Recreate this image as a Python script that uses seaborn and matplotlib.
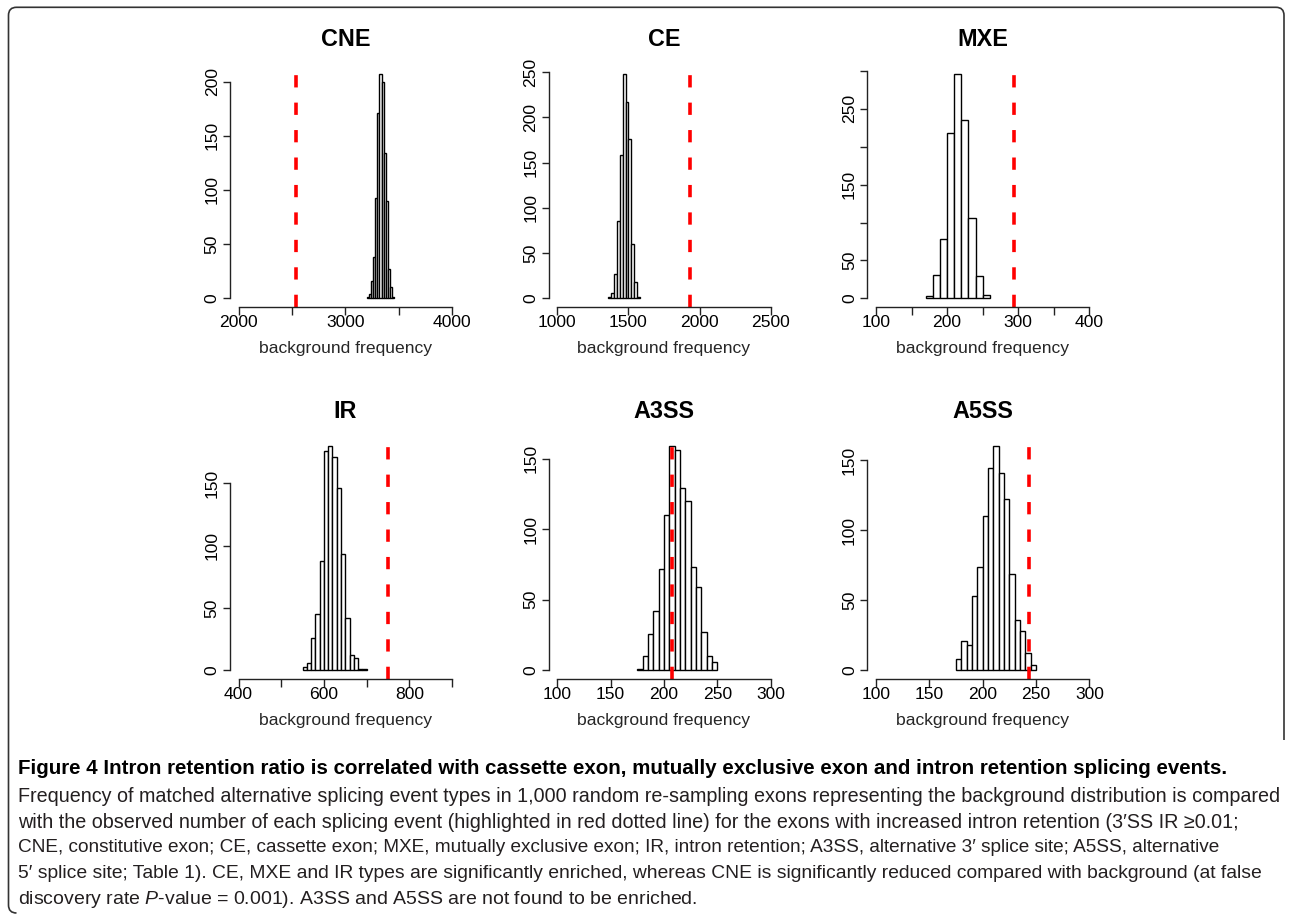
import matplotlib
matplotlib.use("Agg")
import numpy as np
import pandas as pd
import matplotlib.pyplot as plt
import seaborn as sns
from matplotlib.path import Path
from matplotlib.patches import PathPatch

# данные: границы бинов и частоты фонового распределения (1000 перевыборок)
cne_edges = [3200, 3220, 3240, 3260, 3280, 3300, 3320, 3340, 3360, 3380, 3400, 3420, 3440, 3460]
cne_counts = [1, 4, 16, 38, 93, 171, 207, 200, 134, 90, 27, 10, 1]

ce_edges = [1360, 1380, 1400, 1420, 1440, 1460, 1480, 1500, 1520, 1540, 1560, 1580]
ce_counts = [1, 6, 27, 86, 158, 248, 217, 176, 60, 18, 2]

mxe_edges = [170, 180, 190, 200, 210, 220, 230, 240, 250, 260]
mxe_counts = [3, 31, 78, 218, 296, 235, 106, 30, 4]

ir_edges = [550, 560, 570, 580, 590, 600, 610, 620, 630, 640, 650, 660, 670, 680, 690, 700]
ir_counts = [3, 6, 26, 45, 88, 176, 180, 171, 146, 93, 42, 12, 10, 1, 1]

a3ss_edges = [175, 180, 185, 190, 195, 200, 205, 210, 215, 220, 225, 230, 235, 240, 245, 250]
a3ss_counts = [1, 10, 26, 42, 72, 110, 159, 156, 129, 120, 73, 59, 27, 10, 6]

a5ss_edges = [175, 180, 185, 190, 195, 200, 205, 210, 215, 220, 225, 230, 235, 240, 245, 250]
a5ss_counts = [8, 21, 18, 53, 74, 110, 144, 160, 141, 122, 69, 36, 28, 12, 4]

# наблюдаемое число событий (красная линия)
observed = [2535, 1934, 294, 750, 208, 243]
titles = ["CNE", "CE", "MXE", "IR", "A3SS", "A5SS"]

# подписи осей
cne_xticks = [2000, 2500, 3000, 3500, 4000]
cne_xlabels = ["2000", "", "3000", "", "4000"]
ce_xticks = [1000, 1500, 2000, 2500]
ce_xlabels = ["1000", "1500", "2000", "2500"]
mxe_xticks = [100, 150, 200, 250, 300, 350, 400]
mxe_xlabels = ["100", "", "200", "", "300", "", "400"]
ir_xticks = [400, 500, 600, 700, 800, 900]
ir_xlabels = ["400", "", "600", "", "800", ""]
ass_xticks = [100, 150, 200, 250, 300]
ass_xlabels = ["100", "150", "200", "250", "300"]

cne_yticks = [0, 50, 100, 150, 200]
cne_ylabels = ["0", "50", "100", "150", "200"]
ce_yticks = [0, 50, 100, 150, 200, 250]
ce_ylabels = ["0", "50", "100", "150", "200", "250"]
mxe_yticks = [0, 50, 100, 150, 200, 250, 300]
mxe_ylabels = ["0", "50", "", "150", "", "250", ""]
low_yticks = [0, 50, 100, 150]
low_ylabels = ["0", "50", "100", "150"]

caption_title = ("Figure 4 Intron retention ratio is correlated with cassette exon, "
                 "mutually exclusive exon and intron retention splicing events.")
caption_lines = [
    "Frequency of matched alternative splicing event types in 1,000 random re-sampling exons representing the background distribution is compared",
    "with the observed number of each splicing event (highlighted in red dotted line) for the exons with increased intron retention (3\u2032SS IR \u22650.01;",
    "CNE, constitutive exon; CE, cassette exon; MXE, mutually exclusive exon; IR, intron retention; A3SS, alternative 3\u2032 splice site; A5SS, alternative",
    "5\u2032 splice site; Table 1). CE, MXE and IR types are significantly enriched, whereas CNE is significantly reduced compared with background (at false",
    "discovery rate $\\mathit{P}$-value = 0.001). A3SS and A5SS are not found to be enriched.",
]

sns.set_theme(style="ticks")
plt.rcParams["font.family"] = ["Liberation Sans", "DejaVu Sans"]
plt.rcParams["mathtext.fontset"] = "custom"
plt.rcParams["mathtext.it"] = "Liberation Sans:italic"
plt.rcParams["mathtext.rm"] = "Liberation Sans"
plt.rcParams["text.color"] = "black"

panels = [
    (cne_edges, cne_counts, cne_xticks, cne_xlabels, cne_yticks, cne_ylabels),
    (ce_edges, ce_counts, ce_xticks, ce_xlabels, ce_yticks, ce_ylabels),
    (mxe_edges, mxe_counts, mxe_xticks, mxe_xlabels, mxe_yticks, mxe_ylabels),
    (ir_edges, ir_counts, ir_xticks, ir_xlabels, low_yticks, low_ylabels),
    (a3ss_edges, a3ss_counts, ass_xticks, ass_xlabels, low_yticks, low_ylabels),
    (a5ss_edges, a5ss_counts, ass_xticks, ass_xlabels, low_yticks, low_ylabels),
]

W, H = 1290, 916
fig = plt.figure(figsize=(W / 100, H / 100), dpi=100)

col_left = [230, 548.7, 867.4]
row_top = [65, 437]
pw, ph = 230.5, 242.3

for i, (edges, counts, xt, xl, yt, yl) in enumerate(panels):
    r, c = divmod(i, 3)
    ax = fig.add_axes([col_left[c] / W, (H - row_top[r] - ph) / H, pw / W, ph / H])
    mids = [(a + b) / 2 for a, b in zip(edges[:-1], edges[1:])]
    df = pd.DataFrame({"freq": mids, "n": counts})
    sns.histplot(data=df, x="freq", weights="n", bins=list(edges), ax=ax, color="white",
                 edgecolor="black", linewidth=1.0, alpha=1)
    ax.axvline(observed[i], color="#ff0000", lw=2.6, linestyle=(0, (3.4, 4.2)))

    x0, x1 = xt[0], xt[-1]
    ymax = max(counts)
    ax.set_xlim(x0 - 0.04 * (x1 - x0), x1 + 0.04 * (x1 - x0))
    ax.set_ylim(-0.04 * ymax, 1.04 * ymax)
    ax.set_xticks(xt)
    ax.set_xticklabels(xl)
    ax.set_yticks(yt)
    ax.set_yticklabels(yl, rotation=90, va="center")
    ax.spines["top"].set_visible(False)
    ax.spines["right"].set_visible(False)
    ax.spines["left"].set_bounds(yt[0], yt[-1])
    ax.spines["bottom"].set_bounds(x0, x1)
    for s in ("left", "bottom"):
        ax.spines[s].set_color("#222222")
        ax.spines[s].set_linewidth(1.0)
    ax.tick_params(axis="both", direction="out", length=5.4, width=1.0,
                   color="#222222", labelsize=12.6, labelcolor="black")
    ax.tick_params(axis="x", pad=0.5)
    ax.tick_params(axis="y", pad=2)
    ax.set_ylabel("")
    ax.set_xlabel("background frequency", fontsize=12.6, labelpad=7.6)
    ax.set_title(titles[i], fontsize=16.8, fontweight="bold", pad=14)

# подпись к рисунку
cap_x = 18
t0 = fig.text(cap_x / W, 1 - 768 / H, caption_title, fontsize=13, fontweight="bold",
              va="center", ha="left", color="black")
line_y = [796, 822, 848, 874, 900]
line_end = [1278, 1238, 1220, 1258, None]
body = [fig.text(cap_x / W, 1 - y / H, s, fontsize=13, va="center", ha="left", color="#231f20")
        for s, y in zip(caption_lines, line_y)]


def fit(t, target):
    # подгоняем кегль строки под ширину в оригинале (два прохода)
    for _ in range(3):
        fig.canvas.draw()
        w = t.get_window_extent(fig.canvas.get_renderer()).width
        t.set_fontsize(t.get_fontsize() * target / w)
    return t.get_fontsize()


fit(t0, 1233 - cap_x)
sizes = [fit(t, end - cap_x) for t, end in zip(body, line_end) if end is not None]
body[-1].set_fontsize(np.mean(sizes))

# рамка (координаты экрана, начало внизу слева)
rad = 8
lx, rx, ty, by = 8.5, 1284, H - 7.3, 3
verts = [(rx, H - 740), (rx, ty - rad), (rx, ty), (rx - rad, ty),
         (lx + rad, ty), (lx, ty), (lx, ty - rad),
         (lx, by + rad), (lx, by), (lx + rad, by)]
codes = [Path.MOVETO, Path.LINETO, Path.CURVE3, Path.CURVE3,
         Path.LINETO, Path.CURVE3, Path.CURVE3,
         Path.LINETO, Path.CURVE3, Path.CURVE3]
frame = PathPatch(Path(verts, codes), transform=None, fill=False, ec="#333333", lw=1.2)
fig.patches.append(frame)

fig.savefig("out.png", dpi=100)
